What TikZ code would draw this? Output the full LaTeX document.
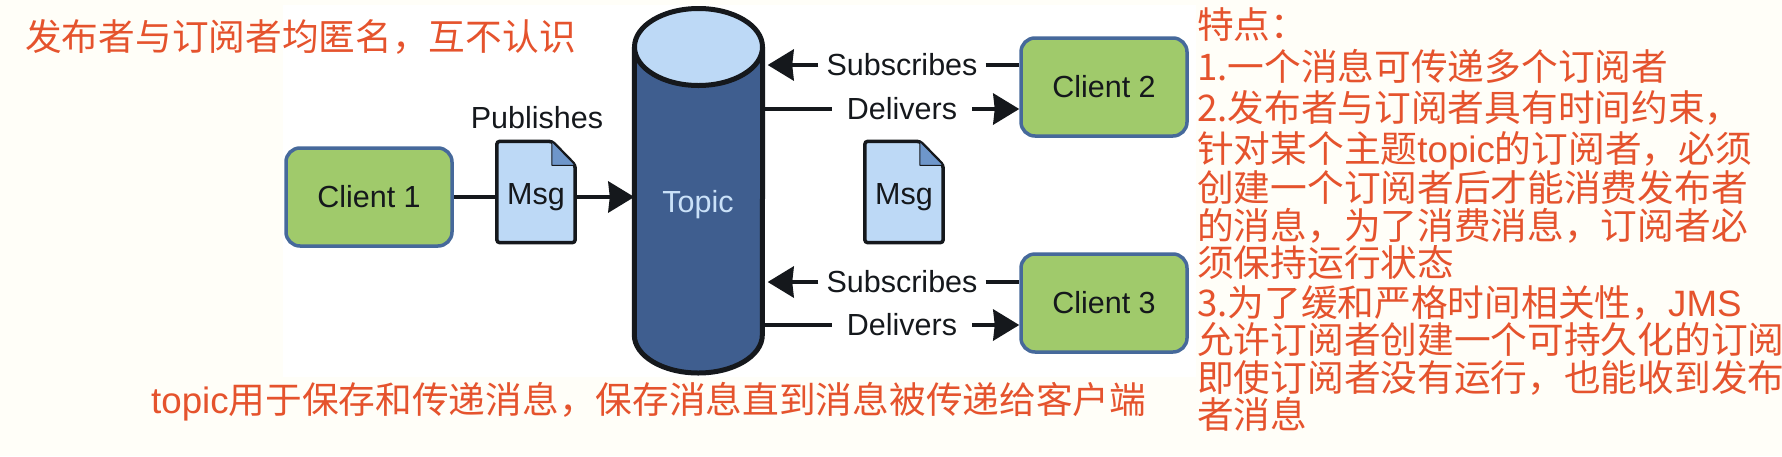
\documentclass[tikz,border=0pt]{standalone}
\usepackage{fontspec}
\setmainfont{Liberation Sans}
\newfontfamily\cjk{Noto Sans CJK SC}
\usetikzlibrary{arrows.meta}
\newcommand{\zc}{\char"FF0C\relax}
\newcommand{\zp}{\char"FF1A\relax}
\definecolor{paperbg}{HTML}{FFFEF8}
\definecolor{notered}{HTML}{E5532D}
\definecolor{clientgreen}{HTML}{A0CA6B}
\definecolor{clientedge}{HTML}{46699B}
\definecolor{topicblue}{HTML}{3F5E8F}
\definecolor{msgblue}{HTML}{BDD9F6}
\definecolor{foldblue}{HTML}{6E96CA}
\definecolor{inkblack}{HTML}{15181C}
\tikzset{
  client/.style={draw=clientedge,line width=3.5pt,fill=clientgreen,rounded corners=14pt,minimum width=166pt,minimum height=98pt,inner sep=0pt,text=inkblack,font=\fontsize{30.5}{30.5}\selectfont},
  msgbox/.style={minimum width=78pt,minimum height=101pt,inner sep=0pt},
  lbl/.style={text=inkblack,inner ysep=0pt,font=\fontsize{30.5}{30.5}\selectfont},
  note/.style={anchor=west,inner sep=0pt,text height=27pt,text depth=5pt,text=notered,font=\cjk\fontsize{36.7}{36.7}\selectfont},
  wire/.style={line width=4pt,draw=inkblack},
  tip/.style={wire,-{Stealth[length=26pt,width=31pt,inset=1.5pt]}}
}
\newcommand{\msgdoc}[2]{
\node[msgbox](#1)at(#2){};
\draw[inkblack,line width=3.5pt,fill=msgblue,rounded corners=3pt]([xshift=55pt]#1.north west)--(#1.north west)--(#1.south west)--(#1.south east)--([yshift=-24pt]#1.north east)--cycle;
\draw[inkblack,line width=1pt,fill=foldblue,line join=round]([xshift=55pt]#1.north west)--([xshift=55pt,yshift=-24pt]#1.north west)--([yshift=-24pt]#1.north east)--cycle;
\node[lbl](#1txt)at([yshift=-5pt]#1.center){Msg};
}
\begin{document}
\begin{tikzpicture}[x=1pt,y=-1pt]
\useasboundingbox(0,0)rectangle(1782,456);
\fill[paperbg](0,0)rectangle(1782,456);
\fill[white](283,5)rectangle(1196,377);
% topic
\node[minimum width=128pt,minimum height=365pt,inner sep=0pt](topic)at(698.5,191){};
\draw[inkblack,line width=5pt,fill=topicblue](topic.west|-0,47)--(topic.west|-0,335)arc[start angle=180,end angle=0,x radius=64,y radius=38]--(topic.east|-0,47);
\draw[inkblack,line width=5pt,fill=msgblue](698.5,47)ellipse[x radius=64,y radius=38.5];
\node[lbl,text=msgblue!80!white](topictxt)at(698,205){Topic};
% clients
\node[client](c1)at(369,197){Client 1};
\node[client](c2)at(1104,87){Client 2};
\node[client](c3)at(1104,303){Client 3};
% messages
\msgdoc{m1}{536,192}
\msgdoc{m2}{904,192}
\node[lbl](pub)at(537,118){Publishes};
\draw[wire](c1)--(c1-|m1.west);
\draw[tip](m1.east|-c1)--(topic.west|-c1);
% subscribes and delivers
\foreach \n/\ys/\yd in {c2/65/109,c3/282/325}{
\node[lbl,inner xsep=8pt](s\n)at(902,\ys){Subscribes};
\node[lbl,inner xsep=15pt](d\n)at(902,\yd){Delivers};
\draw[wire](s\n.east)--(s\n-|\n.west);
\draw[tip](s\n.west)--([xshift=5pt]s\n-|topic.east);
\draw[wire](d\n-|topic.east)--(d\n.west);
\draw[tip](d\n.east)--(d\n-|\n.west);
}
% notes
\node[note](who)at(25,39){发布者与订阅者均匿名\zc 互不认识};
\node[note](keep)at(151,402){{\rmfamily topic}用于保存和传递消息\zc 保存消息直到消息被传递给客户端};
\foreach \i/\y/\s in {0/27/特点\zp,1/69/1.一个消息可传递多个订阅者,2/110/2.发布者与订阅者具有时间约束\zc,3/151/针对某个主题{\rmfamily topic}的订阅者\zc 必须,4/190/创建一个订阅者后才能消费发布者,5/228/的消息\zc 为了消费消息\zc 订阅者必,6/265/须保持运行状态,7/305/3.为了缓和严格时间相关性\zc{\rmfamily JMS},8/342/允许订阅者创建一个可持久化的订阅,9/380/即使订阅者没有运行\zc 也能收到发布,10/417/者消息}{
\node[note](f\i)at(1197,\y){\s};
}
\end{tikzpicture}
\end{document}
